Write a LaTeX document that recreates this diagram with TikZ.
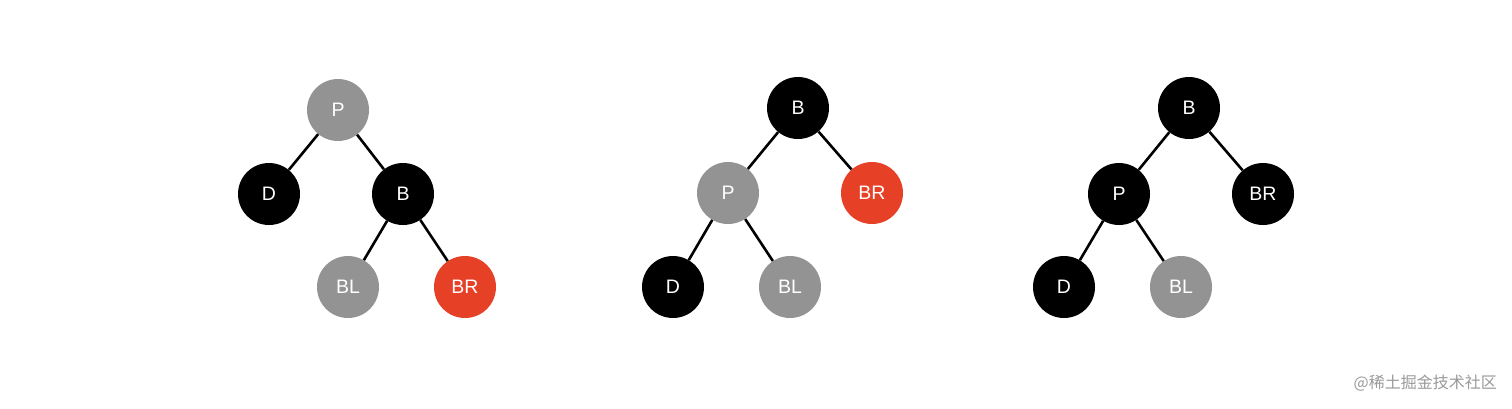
\documentclass[tikz,border=0pt]{standalone}
\usepackage{fontspec}
\setmainfont{Liberation Sans}
\newfontfamily\cjk{Noto Sans CJK SC}
\definecolor{tgray}{HTML}{939393}
\definecolor{tred}{HTML}{E64027}
\definecolor{wmgray}{HTML}{9A9A9A}
\begin{document}
\begin{tikzpicture}[x=1pt,y=-1pt,
  nd/.style={circle,minimum size=62pt,inner sep=0pt,text=white,font=\fontsize{19.5}{19.5}\selectfont},
  blk/.style={nd,fill=black},
  gry/.style={nd,fill=tgray},
  red/.style={nd,fill=tred},
  edge/.style={draw=black,line width=2.6pt}]
\useasboundingbox (0,0) rectangle (1512,408);
\fill[white] (0,0) rectangle (1512,408);
% tree 1
\node[gry] (a1) at (338,110) {P};
\node[blk] (a2) at (269,194) {D};
\node[blk] (a3) at (403,194) {B};
\node[gry] (a4) at (348,287) {BL};
\node[red] (a5) at (465,287) {BR};
\draw[edge] (a1) -- (a2);
\draw[edge] (a1) -- (a3);
\draw[edge] (a3) -- (a4);
\draw[edge] (a3) -- (a5);
% tree 2
\node[blk] (b1) at (798,108) {B};
\node[gry] (b2) at (728,193) {P};
\node[red] (b3) at (872,193) {BR};
\node[blk] (b4) at (673,287) {D};
\node[gry] (b5) at (790,287) {BL};
\draw[edge] (b1) -- (b2);
\draw[edge] (b1) -- (b3);
\draw[edge] (b2) -- (b4);
\draw[edge] (b2) -- (b5);
% tree 3
\node[blk] (c1) at (1189,108) {B};
\node[blk] (c2) at (1119,194) {P};
\node[blk] (c3) at (1263,194) {BR};
\node[blk] (c4) at (1064,287) {D};
\node[gry] (c5) at (1181,287) {BL};
\draw[edge] (c1) -- (c2);
\draw[edge] (c1) -- (c3);
\draw[edge] (c2) -- (c4);
\draw[edge] (c2) -- (c5);
% watermark
\node[anchor=east,text=wmgray,font=\cjk\fontsize{16}{16}\selectfont,inner sep=0pt] (wm) at (1497,383) {@稀土掘金技术社区};
\end{tikzpicture}
\end{document}
